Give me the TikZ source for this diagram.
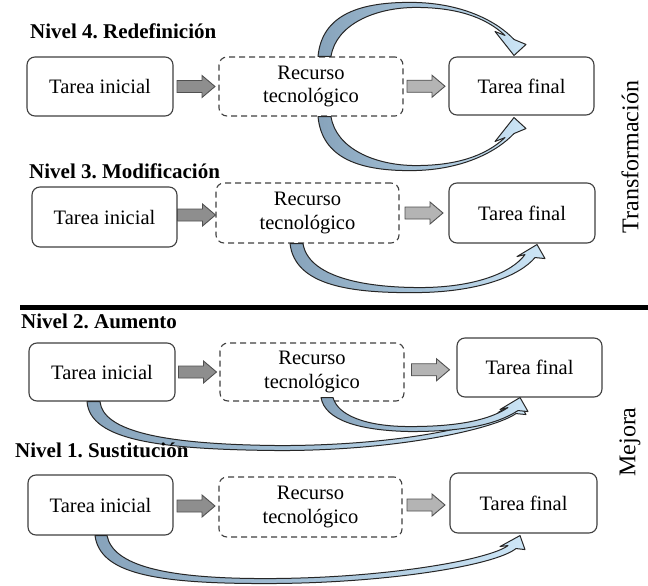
\documentclass[tikz,border=0pt]{standalone}
\usepackage{fontspec}
\setmainfont{Liberation Serif}
\frenchspacing
\usetikzlibrary{calc}
\definecolor{boxline}{HTML}{404040}
\definecolor{arrA}{HTML}{8E8E8E}
\definecolor{arrB}{HTML}{B4B4B4}
\definecolor{arrline}{HTML}{505050}
\definecolor{cdark}{HTML}{87A3BB}
\definecolor{cmid}{HTML}{A3C0D6}
\definecolor{clight}{HTML}{CDE6F7}
\definecolor{cline}{HTML}{262626}
\tikzset{
  taskbox/.style={draw=boxline, line width=1.1pt, rounded corners=8pt, fill=white, inner sep=0pt, align=center, font=\fontsize{20.5}{23.5}\selectfont},
  resbox/.style={taskbox, dash pattern=on 6pt off 4pt},
  leveltitle/.style={anchor=base west, inner sep=0pt, font=\fontsize{21}{24}\selectfont\bfseries},
  sidelabel/.style={rotate=90, inner sep=0pt, font=\fontsize{24}{28}\selectfont},
  blockarr/.style={draw=arrline, line width=0.9pt, line join=miter},
  bandarr/.style={draw=cline, line width=1pt, left color=cdark, right color=clight, middle color=cmid, line join=round},
}
\newcommand{\blockarrow}[3]{%
  \coordinate (tmpm) at ($(#1.east)!0.5!(#2.west)$);
  \draw[blockarr, fill=#3] ($(tmpm)+(-19,-6)$) -- ($(tmpm)+(6,-6)$) -- ($(tmpm)+(6,-11)$) -- ($(tmpm)+(19,0)$) -- ($(tmpm)+(6,11)$) -- ($(tmpm)+(6,6)$) -- ($(tmpm)+(-19,6)$) -- cycle;
}
\begin{document}
\begin{tikzpicture}[x=1pt,y=-1pt]
\fill[white] (0,0) rectangle (648,586);
\useasboundingbox (0,0) rectangle (648,586);

% side labels
\node[sidelabel] (lt) at (630,157) {Transformación};
\node[sidelabel] (lm) at (630,442) {Mejora};

% rule
\coordinate (ruleL) at (20,307);
\coordinate (ruleR) at (648,307);
\draw[line width=5pt] (ruleL) -- (ruleR);

% level 4
\node[taskbox, minimum width=146, minimum height=59] (ini4) at (100,86.5) {Tarea inicial};
\node[resbox, minimum width=184, minimum height=59] (rec4) at (311,86.5) {Recurso\\tecnológico};
\node[taskbox, minimum width=145, minimum height=58] (fin4) at (521.5,86) {Tarea final};
% level 3
\node[taskbox, minimum width=145, minimum height=60] (ini3) at (104.5,217) {Tarea inicial};
\node[resbox, minimum width=183, minimum height=60] (rec3) at (307.5,213) {Recurso\\tecnológico};
\node[taskbox, minimum width=146, minimum height=60] (fin3) at (522,213) {Tarea final};
% level 2
\node[taskbox, minimum width=146, minimum height=58] (ini2) at (102,372) {Tarea inicial};
\node[resbox, minimum width=184, minimum height=58] (rec2) at (312,372) {Recurso\\tecnológico};
\node[taskbox, minimum width=145, minimum height=59] (fin2) at (529.5,367.5) {Tarea final};
% level 1
\node[taskbox, minimum width=145, minimum height=60] (ini1) at (100.5,505) {Tarea inicial};
\node[resbox, minimum width=183, minimum height=60] (rec1) at (310.5,507) {Recurso\\tecnológico};
\node[taskbox, minimum width=147, minimum height=60] (fin1) at (523.5,503) {Tarea final};

% straight block arrows
\blockarrow{ini4}{rec4}{arrA}
\blockarrow{rec4}{fin4}{arrB}
\blockarrow{ini3}{rec3}{arrA}
\blockarrow{rec3}{fin3}{arrB}
\blockarrow{ini2}{rec2}{arrA}
\blockarrow{rec2}{fin2}{arrB}
\blockarrow{ini1}{rec1}{arrA}
\blockarrow{rec1}{fin1}{arrB}

% level 4 upper curved arrow
\coordinate (s4u) at ($(rec4.north)+(7,0)$);
\coordinate (t4u) at ($(fin4.north)+(-7.5,-1)$);
\path[bandarr] (s4u) .. controls ($(s4u)+(4,-42)$) and ($(s4u)+(42,-55)$) .. ($(s4u)+(97,-54)$)
  .. controls ($(t4u)+(-54,-52)$) and ($(t4u)+(-19,-36)$) .. ($(t4u)+(0,-16)$)
  -- ($(t4u)+(12,-11)$) -- (t4u) -- ($(t4u)+(-19,-24)$) -- ($(t4u)+(-9,-20)$)
  .. controls ($(t4u)+(-29,-39)$) and ($(t4u)+(-59,-48)$) .. ($(s4u)+(98,-49)$)
  .. controls ($(s4u)+(57,-49)$) and ($(s4u)+(18,-32)$) .. ($(s4u)+(13,0)$) -- cycle;

% level 4 lower curved arrow
\coordinate (s4d) at ($(rec4.south)+(7,0)$);
\coordinate (t4d) at ($(fin4.south)+(-7.5,2)$);
\path[bandarr] (s4d) .. controls ($(s4d)+(4,42)$) and ($(s4d)+(42,55)$) .. ($(s4d)+(97,54)$)
  .. controls ($(t4d)+(-54,52)$) and ($(t4d)+(-19,36)$) .. ($(t4d)+(0,16)$)
  -- ($(t4d)+(12,11)$) -- (t4d) -- ($(t4d)+(-19,24)$) -- ($(t4d)+(-9,20)$)
  .. controls ($(t4d)+(-29,39)$) and ($(t4d)+(-59,48)$) .. ($(s4d)+(98,49)$)
  .. controls ($(s4d)+(57,49)$) and ($(s4d)+(18,32)$) .. ($(s4d)+(13,0)$) -- cycle;

% level 3 curved arrow
\coordinate (s3) at ($(rec3.south)+(-17.5,0)$);
\coordinate (t3) at ($(fin3.south)+(15,1)$);
\path[bandarr] (s3) .. controls ($(s3)+(5,42)$) and ($(s3)+(60,50)$) .. ($(s3)+(130,49)$)
  .. controls ($(t3)+(-57,47)$) and ($(t3)+(-17,31)$) .. ($(t3)+(-2,13)$)
  -- ($(t3)+(8,14)$) -- (t3) -- ($(t3)+(-20,12)$) -- ($(t3)+(-12,10)$)
  .. controls ($(t3)+(-25,28)$) and ($(t3)+(-62,43)$) .. ($(s3)+(130,44)$)
  .. controls ($(s3)+(70,44)$) and ($(s3)+(18,32)$) .. ($(s3)+(13,0)$) -- cycle;

% level 2 curved arrow from initial task
\coordinate (s2a) at ($(ini2.south)+(-15,0)$);
\coordinate (t2a) at ($(fin2.south)+(-11.5,3)$);
\path[bandarr] (s2a) .. controls ($(s2a)+(3,39)$) and ($(s2a)+(73,48)$) .. ($(s2a)+(193,49)$)
  .. controls ($(t2a)+(-118,50)$) and ($(t2a)+(-23,28)$) .. ($(t2a)+(-2,13)$)
  -- ($(t2a)+(8,14)$) -- (t2a) -- ($(t2a)+(-20,12)$) -- ($(t2a)+(-12,10)$)
  .. controls ($(t2a)+(-30,25)$) and ($(t2a)+(-118,45)$) .. ($(s2a)+(193,44)$)
  .. controls ($(s2a)+(73,43)$) and ($(s2a)+(16,29)$) .. ($(s2a)+(13,0)$) -- cycle;

% level 2 curved arrow from resource
\coordinate (s2b) at ($(rec2.south)+(9,-4)$);
\coordinate (t2b) at ($(fin2.south)+(-9.5,0)$);
\path[bandarr] (s2b) .. controls ($(s2b)+(4,23)$) and ($(s2b)+(39,33)$) .. ($(s2b)+(89,34)$)
  .. controls ($(t2b)+(-60,34)$) and ($(t2b)+(-25,28)$) .. ($(t2b)+(-2,13)$)
  -- ($(t2b)+(8,14)$) -- (t2b) -- ($(t2b)+(-20,12)$) -- ($(t2b)+(-12,10)$)
  .. controls ($(t2b)+(-30,22)$) and ($(t2b)+(-60,29)$) .. ($(s2b)+(89,29)$)
  .. controls ($(s2b)+(45,29)$) and ($(s2b)+(17,18)$) .. ($(s2b)+(12,0)$) -- cycle;

% level 1 curved arrow
\coordinate (s1) at ($(ini1.south)+(-5.5,0)$);
\coordinate (t1) at ($(fin1.south)+(-3.5,2)$);
\path[bandarr] (s1) .. controls ($(s1)+(5,38)$) and ($(s1)+(60,48)$) .. ($(s1)+(170,48)$)
  .. controls ($(t1)+(-135,48)$) and ($(t1)+(-25,30)$) .. ($(t1)+(-4,13)$)
  -- ($(t1)+(5,14)$) -- (t1) -- ($(t1)+(-20,11)$) -- ($(t1)+(-12,10)$)
  .. controls ($(t1)+(-30,24)$) and ($(t1)+(-135,43)$) .. ($(s1)+(170,43)$)
  .. controls ($(s1)+(70,43)$) and ($(s1)+(18,30)$) .. ($(s1)+(12,0)$) -- cycle;

% titles (on top)
\node[leveltitle] (t4) at (30,39) {Nivel 4. Redefinición};
\node[leveltitle] (t3) at (29,178) {Nivel 3. Modificación};
\node[leveltitle] (t2) at (21,328) {Nivel 2. Aumento};
\node[leveltitle] (t1) at (15,457) {Nivel 1. Sustitución};
\end{tikzpicture}
\end{document}
